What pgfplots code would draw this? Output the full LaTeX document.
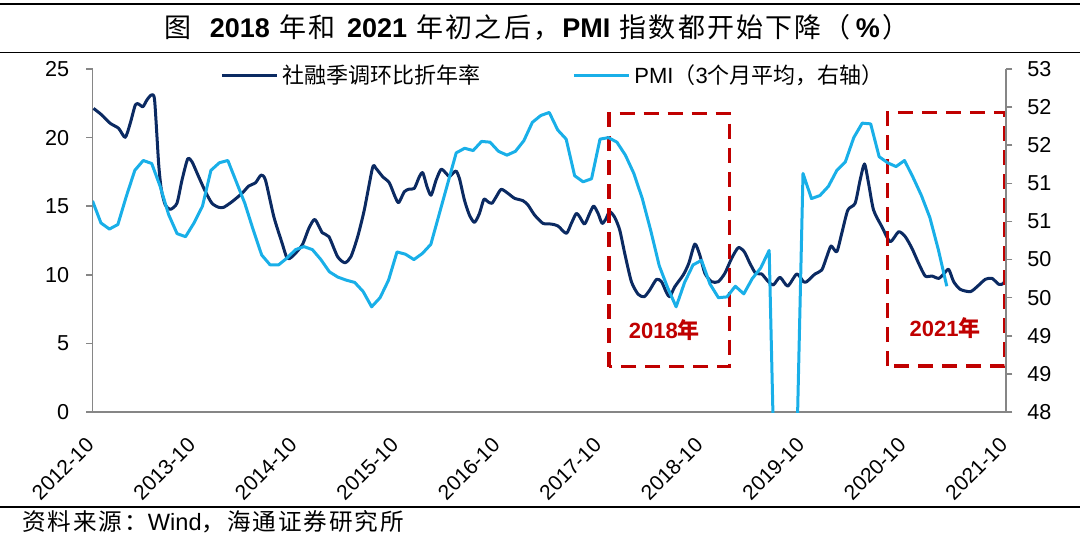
\documentclass[border=0pt]{standalone}
\usepackage{fontspec}
\setmainfont{Liberation Sans}
\newfontfamily\cjk{Noto Sans CJK SC}
\newfontfamily\cjkt{Noto Sans CJK SC}[LetterSpace=8]
\newfontfamily\cjks{Noto Sans CJK SC}[LetterSpace=8]
\usepackage{pgfplots}
\pgfplotsset{compat=1.18}
\definecolor{navy}{HTML}{0B2A62}
\definecolor{sky}{HTML}{19AFE8}
\definecolor{boxred}{HTML}{C00000}
\definecolor{axgray}{HTML}{868686}

\pgfplotstableread{
x y
0.12 22.13
1.1 21.65
2.1 21.04
3.08 20.68
3.87 20.02
4.46 21.04
5.06 22.38
5.45 22.45
5.96 22.25
6.43 22.74
6.95 23.1
7.34 22.74
7.82 18.1
8.14 16.2
8.61 15.09
9.2 14.77
9.98 15.21
10.58 16.9
11.25 18.44
11.76 18.24
12.55 17.15
13.35 16.06
14.13 15.21
14.92 14.92
15.51 14.92
16.5 15.33
17.68 15.94
18.47 16.47
19.27 16.71
19.93 17.27
20.45 16.9
21.44 14.23
22.42 12.3
23.01 11.2
23.6 11.32
24.79 12.17
25.58 13.39
26.29 14.04
27.16 13.07
27.95 12.78
28.98 11.32
29.84 10.88
30.55 11.32
31.35 12.78
32.13 14.72
33.12 17.83
33.51 17.76
34.31 17.15
35.09 16.71
35.77 15.69
36.2 15.26
36.87 16.06
37.46 16.25
38.05 16.3
38.64 17.15
39.05 17.44
39.55 16.42
40.03 15.8
40.62 16.9
41.21 17.69
41.8 17.4
42.2 17.15
42.6 17.4
42.99 17.56
43.38 17.03
43.97 15.45
44.56 14.36
45.16 13.82
45.75 14.48
46.27 15.5
46.74 15.33
47.22 15.21
47.73 15.69
48.32 16.23
49.11 15.94
49.89 15.58
50.89 15.4
51.48 15.09
52.26 14.36
53.26 13.75
54.24 13.7
55.03 13.56
56.02 13.02
56.61 13.75
57.2 14.48
57.59 14.23
58.18 13.7
58.78 14.48
59.25 15.01
59.77 14.48
60.24 13.75
60.67 14.04
61.14 14.6
61.74 14.19
62.33 13.27
62.92 11.57
63.71 9.5
64.51 8.58
65.22 8.4
65.88 8.89
66.68 9.67
67.27 9.5
67.86 8.7
68.25 8.4
68.84 9.13
69.84 9.99
70.5 10.84
71.21 12.24
71.8 11.44
72.4 10.11
73.19 9.5
73.98 9.5
74.76 10.11
75.56 11.2
76.35 11.98
77.06 11.68
77.72 10.84
78.4 10.11
79.11 10.06
79.9 9.5
80.5 9.26
81.28 9.82
82.19 9.18
83.26 10.06
84.05 9.5
84.44 9.5
85.42 10.06
86.22 10.35
86.81 11.32
87.32 12.1
87.99 11.68
88.58 13.02
89.3 14.72
90.16 15.21
90.75 16.9
91.27 18.08
91.75 16.67
92.34 14.72
93.33 13.5
94.31 12.41
95.3 13.14
96.09 12.78
96.88 11.93
97.67 10.84
98.45 9.91
99.24 9.91
100.04 9.74
100.63 10.06
101.22 10.4
101.81 9.5
102.59 8.94
103.78 8.77
104.57 9.13
105.55 9.67
106.35 9.74
107.14 9.31
107.73 9.38
108 10.06
}\tsf

\pgfplotstableread{
x y
0 50.77
1 50.48
2 50.40
3 50.46
4 50.83
5 51.17
6 51.30
7 51.26
8 50.96
9 50.59
10 50.34
11 50.30
12 50.48
13 50.70
14 51.17
15 51.27
16 51.30
17 51.02
18 50.74
19 50.39
20 50.06
21 49.93
22 49.93
23 50.02
24 50.13
25 50.17
26 50.13
27 50.00
28 49.84
29 49.77
30 49.73
31 49.70
32 49.58
33 49.38
34 49.50
35 49.73
36 50.10
37 50.07
38 50.00
39 50.08
40 50.20
41 50.60
42 51.00
43 51.40
44 51.46
45 51.43
46 51.55
47 51.54
48 51.42
49 51.37
50 51.42
51 51.56
52 51.80
53 51.89
54 51.93
55 51.70
56 51.58
57 51.10
58 51.02
59 51.06
60 51.58
61 51.60
62 51.54
63 51.37
64 51.13
65 50.80
66 50.38
67 49.92
68 49.63
69 49.38
70 49.70
71 49.93
72 49.99
73 49.68
74 49.50
75 49.51
76 49.65
77 49.55
78 49.75
79 49.89
80 50.12
81 45.30
82 45.90
83 46.20
84 51.13
85 50.80
86 50.84
87 50.96
88 51.17
89 51.28
90 51.60
91 51.79
92 51.78
93 51.35
94 51.27
95 51.22
96 51.30
97 51.08
98 50.84
99 50.55
100 50.13
101 49.65
}\pmi

\pgfplotsset{
  base/.style={
    at={(46.25pt,62.5pt)}, anchor=south west,
    scale only axis, width=456.75pt, height=171.5pt,
    xmin=0, xmax=108,
    axis line style={draw=axgray, line width=0.75pt},
    every tick/.style={draw=axgray, line width=0.75pt},
    tick align=outside,
    major tick length=3.2pt,
    /pgf/number format/assume math mode=true,
    ticklabel style={font=\fontsize{10.8pt}{12pt}\selectfont, text=black},
  }
}

\begin{document}
\begin{tikzpicture}
\useasboundingbox (0,0) rectangle (540pt,268.5pt);
\draw[line width=1.2pt] (0,266.6pt) -- (540pt,266.6pt);
\draw[line width=0.7pt] (0,242.4pt) -- (540pt,242.4pt);
\draw[line width=0.9pt] (0,15.0pt) -- (540pt,15.0pt);
\node[anchor=center, inner sep=0pt] at (268.5pt,255pt) {\fontsize{13.5pt}{15pt}\selectfont {\cjkt 图}\hspace{0.6em}\textbf{2018}\hspace{0.35em}{\cjkt 年和}\hspace{0.35em}\textbf{2021}\hspace{0.35em}{\cjkt 年初之后，}\textbf{PMI}\hspace{0.35em}{\cjkt 指数都开始下降（}\hspace{0.1em}\textbf{\%}\hspace{0.1em}{\cjkt ）}};
\node[anchor=west, inner sep=0pt] at (11pt,7.8pt) {\fontsize{11.8pt}{12pt}\selectfont {\cjks 资料来源：}Wind{\cjks ，海通证券研究所}};

\begin{axis}[base,
  ymin=0, ymax=25, ytick={0,5,...,25},
  axis y line*=left, axis x line*=bottom,
  yticklabel style={xshift=-5pt},
  xtick={0,12,...,108},
  xticklabels={2012-10,2013-10,2014-10,2015-10,2016-10,2017-10,2018-10,2019-10,2020-10,2021-10},
  x tick style={draw=none},
  xticklabel style={rotate=45, anchor=north east, font=\fontsize{10.5pt}{12pt}\selectfont, yshift=0pt, xshift=-5.5pt},
  clip=true,
]
\addplot[navy, line width=1.5pt, smooth, tension=0.4, line join=round] table[x=x,y=y] {\tsf};
\draw[boxred, line width=1.6pt, dash pattern=on 7.5pt off 4.5pt] (axis cs:61.07,3.30) rectangle (axis cs:75.28,21.77);
\draw[boxred, line width=1.6pt, dash pattern=on 7.5pt off 4.5pt] (axis cs:94.0,3.35) rectangle (axis cs:107.85,21.84);
\node[boxred, font=\bfseries\fontsize{11pt}{12pt}\selectfont] at (axis cs:67.6,5.98) {2018{\cjk 年}};
\node[boxred, font=\bfseries\fontsize{11pt}{12pt}\selectfont] at (axis cs:100.8,6.12) {2021{\cjk 年}};
\end{axis}

\begin{axis}[base,
  ymin=48, ymax=52.5,
  axis y line*=right, axis x line=none,
  ytick={48,48.5,...,52.5},
  yticklabels={48,49,49,50,50,51,51,52,52,53},
  yticklabel style={xshift=4pt},
  clip=true,
  legend columns=2,
  legend style={at={(0.1396,0.98)}, anchor=west, draw=none, fill=none, inner sep=0pt,
    font=\fontsize{11pt}{12pt}\selectfont, /tikz/every even column/.append style={column sep=44pt}},
  legend cell align=left,
  legend image code/.code={\draw[#1] (0pt,0pt) -- (27.5pt,0pt);},
]
\addlegendimage{navy, line width=1.5pt}
\addlegendentry{{\cjk 社融季调环比折年率}}
\addplot[sky, line width=1.5pt, line join=round] table[x=x,y=y] {\pmi};
\addlegendentry{PMI{\cjk （}3{\cjk 个月平均，右轴）}}
\end{axis}
\end{tikzpicture}
\end{document}
